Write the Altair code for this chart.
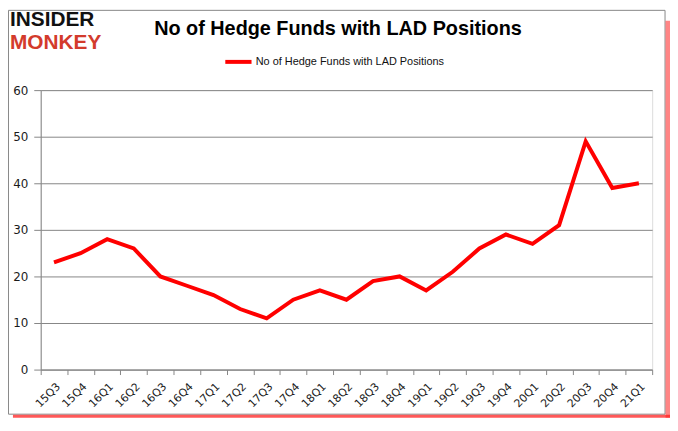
import altair as alt
import pandas as pd

quarters = ["15Q3", "15Q4", "16Q1", "16Q2", "16Q3", "16Q4", "17Q1", "17Q2", "17Q3",
            "17Q4", "18Q1", "18Q2", "18Q3", "18Q4", "19Q1", "19Q2", "19Q3", "19Q4",
            "20Q1", "20Q2", "20Q3", "20Q4", "21Q1"]
funds = [23, 25, 28, 26, 20, 18, 16, 13, 11, 15, 17, 15, 19, 20, 17, 21, 26, 29,
         27, 31, 49, 39, 40]
series_name = "No of Hedge Funds with LAD Positions"
title_text = "No of Hedge Funds with LAD Positions"
y_ticks = [0, 10, 20, 30, 40, 50, 60]

df = pd.DataFrame({"quarter": quarters, "funds": funds, "series": series_name})

W, H = 617, 282

line = alt.Chart(df).mark_line(strokeWidth=4, color="#ff0000").encode(
    x=alt.X("quarter:N", sort=quarters, title=None,
            scale=alt.Scale(paddingInner=0, paddingOuter=0),
            axis=alt.Axis(labelAngle=-45, labelFont="DejaVu Sans", labelFontSize=11,
                          labelColor="#1a1a1a", domainColor="#868686", tickColor="#868686",
                          tickSize=5, tickBand="extent", labelPadding=6, grid=False)),
    y=alt.Y("funds:Q", title=None,
            scale=alt.Scale(domain=[0, 60]),
            axis=alt.Axis(values=y_ticks, labelFont="DejaVu Sans", labelFontSize=12,
                          labelColor="#1a1a1a", domainColor="#868686", tickColor="#868686",
                          tickSize=7, labelPadding=6, gridColor="#868686", gridOpacity=1)),
    color=alt.Color("series:N", title=None,
                    scale=alt.Scale(domain=[series_name], range=["#ff0000"]),
                    legend=alt.Legend(orient="none", legendX=184, legendY=-44,
                                      symbolType="stroke", symbolSize=700,
                                      symbolStrokeWidth=4, labelFont="Liberation Sans",
                                      labelFontSize=11, labelColor="#111111",
                                      labelOffset=2, padding=0, labelLimit=400)),
)

deco = pd.DataFrame({"k": [0]})

border = alt.Chart(deco).mark_rect(fill="transparent", stroke="#888888", strokeWidth=1).encode(
    x=alt.value(-32.5), x2=alt.value(630), y=alt.value(-80.5), y2=alt.value(327))
shadow_r = alt.Chart(deco).mark_rect(fill="#ff2020", opacity=0.55).encode(
    x=alt.value(630.5), x2=alt.value(635), y=alt.value(-70), y2=alt.value(330.5))
shadow_b = alt.Chart(deco).mark_rect(fill="#ff2020", opacity=0.75).encode(
    x=alt.value(-28), x2=alt.value(635), y=alt.value(327.5), y2=alt.value(330.5))

title = alt.Chart(deco).mark_text(text=title_text, font="Liberation Sans", fontSize=20,
                                  fontWeight="bold", color="#000000", baseline="middle",
                                  align="center").encode(x=alt.value(300), y=alt.value(-62))
logo1 = alt.Chart(deco).mark_text(text="INSIDER", font="Liberation Sans", fontSize=21,
                                  fontWeight="bold", color="#111111", baseline="middle",
                                  align="left").encode(x=alt.value(-31), y=alt.value(-71))
logo2 = alt.Chart(deco).mark_text(text="MONKEY", font="Liberation Sans", fontSize=21,
                                  fontWeight="bold", color="#d33b2c", baseline="middle",
                                  align="left").encode(x=alt.value(-31), y=alt.value(-47))

chart = alt.layer(border, shadow_r, shadow_b, line, title, logo1, logo2).properties(
    width=W, height=H,
    autosize=alt.AutoSizeParams(type="none"),
    padding={"left": 33, "top": 81, "right": 18, "bottom": 49},
).configure_view(stroke=None).configure(background="white")

chart.save("out.html", embed_options={"renderer": "svg", "actions": False})
